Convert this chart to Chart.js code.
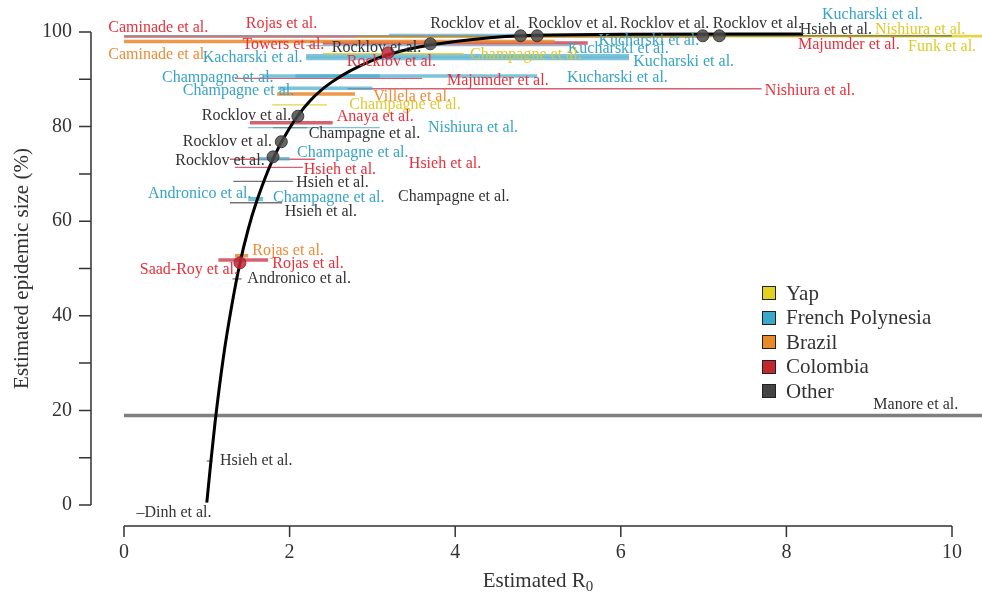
<!DOCTYPE html>
<html>
<head>
<meta charset="utf-8">
<script src="https://cdn.jsdelivr.net/npm/chart.js@4/dist/chart.umd.min.js"></script>
<style>
  body { margin: 0; background: #fff; }
  #wrap { position: relative; width: 982px; height: 597px; }
  #legend { position: absolute; left: 762px; top: 281px; font-family: "Liberation Serif", serif; font-size: 21px; color: #333; }
  .row { display: flex; align-items: center; height: 24.5px; }
  .sw { width: 12px; height: 12px; border: 1.5px solid #222; margin-right: 10px; }
</style>
</head>
<body>
<div id="wrap">
  <canvas id="chart" width="982" height="597"></canvas>
  <div id="legend"></div>
</div>
<script>
// Regions and colours
const regions = ['Yap', 'French Polynesia', 'Brazil', 'Colombia', 'Other'];
const swatch = { 'Yap': '#e3d21d', 'French Polynesia': '#3aa8c8', 'Brazil': '#e8892a', 'Colombia': '#c1272d', 'Other': '#444' };
const labelColor = { 'Yap': '#ddcb2c', 'French Polynesia': '#37a4c7', 'Brazil': '#ef8b34', 'Colombia': '#e8303c', 'Other': '#333' };
const lineColor = { 'Yap': 'rgba(222,204,40,0.85)', 'French Polynesia': 'rgba(70,170,205,0.7)', 'Brazil': 'rgba(234,134,42,0.85)', 'Colombia': 'rgba(200,45,65,0.75)', 'Other': 'rgba(70,70,70,0.75)' };

// Estimate ranges (R0 low / high, epidemic size %)
const ciRegion = ['Other', 'Yap', 'Yap', 'French Polynesia', 'Colombia', 'Brazil', 'Colombia', 'French Polynesia', 'Yap', 'French Polynesia',
  'French Polynesia', 'French Polynesia', 'French Polynesia', 'Colombia', 'French Polynesia', 'Colombia', 'Brazil', 'Yap', 'Colombia', 'French Polynesia',
  'Other', 'French Polynesia', 'Colombia', 'Colombia', 'Other', 'French Polynesia', 'French Polynesia', 'Other', 'Brazil', 'Colombia',
  'Other', 'Other', 'Other'];
const ciLow = [0, 2.8, 5.0, 3.2, 0, 0, 2.4, 2.2, 2.4, 2.2,
  2.2, 1.68, 2.07, 1.34, 1.86, 2.7, 1.85, 1.79, 1.52, 1.5,
  1.8, 1.62, 1.28, 1.34, 1.32, 1.5, 1.5, 1.28, 1.34, 1.14,
  1.31, 1.0, 0];
const ciHigh = [10, 10.4, 10.4, 8.2, 7.0, 5.2, 5.6, 5.4, 4.1, 6.1,
  6.1, 4.99, 3.09, 3.6, 3.0, 7.7, 2.79, 2.45, 2.52, 3.09,
  2.21, 2.0, 2.31, 2.16, 2.04, 1.68, 1.68, 1.91, 1.5, 1.74,
  1.42, 1.07, 10.4];
const ciSize = [99.2, 99.0, 99.3, 99.5, 98.9, 98.0, 97.7, 97.1, 95.4, 95.0,
  94.4, 90.7, 90.7, 90.2, 88.1, 88.0, 86.9, 84.6, 80.8, 79.8,
  79.8, 73.2, 73.1, 71.4, 68.4, 65.0, 64.6, 63.9, 52.7, 51.8,
  47.8, 9.3, 18.9];
const ciType = ['thin', 'thin', 'thin', 'thin', 'thin', 'thick', 'thick', 'thin', 'thin', 'thick',
  'thick', 'thick', 'thick', 'thin', 'thick', 'thin', 'thick', 'thin', 'thick', 'thin',
  'thin', 'thick', 'thin', 'thin', 'thin', 'thin', 'thick', 'thin', 'thick', 'thick',
  'thin', 'thin', 'band'];

// Point estimates on the curve
const ptOtherR0 = [1.8, 1.9, 2.1, 3.7, 4.79, 4.99, 6.99, 7.19];
const ptOtherSize = [73.6, 76.8, 82.2, 97.5, 99.2, 99.2, 99.2, 99.2];
const ptColR0 = [1.4, 3.19];
const ptColSize = [51.2, 95.6];

// Final size curve
const curveR0 = [1.0, 1.05, 1.1, 1.2, 1.3, 1.4, 1.5, 1.6, 1.8, 2.0, 2.25, 2.5, 3.0, 3.5, 4.0, 4.8, 6.0, 8.2];
const curveSize = [0.5, 9.3, 17.5, 31.2, 42.0, 51.1, 58.3, 64.1, 73.2, 79.7, 85.5, 89.3, 94.0, 96.6, 98.0, 99.2, 99.5, 99.6];

// Study labels (left edge R0, size %)
const labelText = ['Caminade et al.', 'Rojas et al.', 'Towers et al.', 'Caminade et al.', 'Kacharski et al.', 'Rocklov et al.', 'Rocklov et al.',
  'Rocklov et al.', 'Rocklov et al.', 'Rocklov et al.', 'Rocklov et al.', 'Kucharski et al.', 'Hsieh et al.', 'Nishiura et al.',
  'Majumder et al.', 'Funk et al.', 'Kucharski et al.', 'Kucharski et al.', 'Champagne et al.', 'Kucharski et al.', 'Champagne et al.',
  'Majumder et al.', 'Kucharski et al.', 'Champagne et al.', 'Nishiura et al.', 'Villela et al.', 'Champagne et al.', 'Rocklov et al.',
  'Anaya et al.', 'Champagne et al.', 'Nishiura et al.', 'Rocklov et al.', 'Champagne et al.', 'Hsieh et al.', 'Rocklov et al.',
  'Hsieh et al.', 'Hsieh et al.', 'Andronico et al.', 'Champagne et al.', 'Champagne et al.', 'Hsieh et al.', 'Rojas et al.',
  'Saad-Roy et al.', 'Rojas et al.', 'Andronico et al.', 'Hsieh et al.', '\u2013Dinh et al.', 'Manore et al.'];
const labelRegion = ['Colombia', 'Colombia', 'Colombia', 'Brazil', 'French Polynesia', 'Other', 'Colombia',
  'Other', 'Other', 'Other', 'Other', 'French Polynesia', 'Other', 'Yap',
  'Colombia', 'Yap', 'French Polynesia', 'French Polynesia', 'Yap', 'French Polynesia', 'French Polynesia',
  'Colombia', 'French Polynesia', 'French Polynesia', 'Colombia', 'Brazil', 'Yap', 'Other',
  'Colombia', 'Other', 'French Polynesia', 'Other', 'French Polynesia', 'Colombia', 'Other',
  'Colombia', 'Other', 'French Polynesia', 'French Polynesia', 'Other', 'Other', 'Brazil',
  'Colombia', 'Colombia', 'Other', 'Other', 'Other', 'Other'];
const labelR0 = [-0.19, 1.47, 1.43, -0.19, 0.95, 2.51, 2.69,
  3.70, 4.88, 5.99, 7.11, 8.43, 8.16, 9.07,
  8.14, 9.47, 5.73, 5.36, 4.18, 6.15, 0.46,
  3.90, 5.35, 0.71, 7.74, 3.01, 2.72, 0.94,
  2.57, 2.23, 3.67, 0.71, 2.09, 3.44, 0.62,
  2.17, 2.08, 0.29, 1.80, 3.31, 1.94, 1.55,
  0.19, 1.79, 1.49, 1.16, 0.15, 9.05];
const labelSize = [100.8, 101.7, 97.3, 95.1, 94.5, 96.6, 93.7,
  101.7, 101.7, 101.7, 101.7, 103.6, 100.4, 100.4,
  97.3, 96.8, 98.1, 96.4, 95.1, 93.7, 90.3,
  89.6, 90.3, 87.5, 87.5, 86.3, 84.6, 82.2,
  82.0, 78.4, 79.7, 76.7, 74.4, 72.1, 72.7,
  70.8, 68.1, 65.8, 64.9, 65.1, 62.0, 53.7,
  49.7, 51.0, 47.8, 9.3, -1.7, 21.1];

const xTicks = [0, 2, 4, 6, 8, 10];
const yTicks = [0, 20, 40, 60, 80, 100];

const font = '"Liberation Serif", "Times New Roman", serif';

// Detached axes, study labels and titles
const paperAxes = {
  id: 'paperAxes',
  afterDatasetsDraw(chart) {
    const { ctx, chartArea, scales: { x, y } } = chart;
    ctx.save();

    ctx.font = `16px ${font}`;
    ctx.textBaseline = 'middle';
    ctx.textAlign = 'left';
    labelText.forEach((t, i) => {
      ctx.fillStyle = labelColor[labelRegion[i]];
      ctx.fillText(t, x.getPixelForValue(labelR0[i]), y.getPixelForValue(labelSize[i]));
    });

    ctx.strokeStyle = '#333';
    ctx.lineWidth = 1.5;
    ctx.fillStyle = '#333';
    ctx.font = `20px ${font}`;

    // y axis
    const ax = chartArea.left;
    ctx.beginPath();
    ctx.moveTo(ax, y.getPixelForValue(0));
    ctx.lineTo(ax, y.getPixelForValue(100));
    for (let v = 0; v <= 100; v += 10) {
      ctx.moveTo(ax, y.getPixelForValue(v));
      ctx.lineTo(ax - 12, y.getPixelForValue(v));
    }
    ctx.stroke();
    ctx.textAlign = 'right';
    yTicks.forEach(v => ctx.fillText(String(v), ax - 19, y.getPixelForValue(v)));

    // x axis
    const ay = chartArea.bottom;
    ctx.beginPath();
    ctx.moveTo(x.getPixelForValue(0), ay);
    ctx.lineTo(x.getPixelForValue(10), ay);
    xTicks.forEach(v => {
      ctx.moveTo(x.getPixelForValue(v), ay);
      ctx.lineTo(x.getPixelForValue(v), ay + 11);
    });
    ctx.stroke();
    ctx.textAlign = 'center';
    xTicks.forEach(v => ctx.fillText(String(v), x.getPixelForValue(v), ay + 27));

    // titles
    const main = 'Estimated R';
    ctx.font = `21px ${font}`;
    const w = ctx.measureText(main).width;
    ctx.font = `15px ${font}`;
    const ws = ctx.measureText('0').width;
    const cx = x.getPixelForValue(5) - (w + ws) / 2;
    ctx.textAlign = 'left';
    ctx.font = `21px ${font}`;
    ctx.fillText(main, cx, 581);
    ctx.font = `15px ${font}`;
    ctx.fillText('0', cx + w, 587);

    ctx.font = `21px ${font}`;
    ctx.translate(22, (y.getPixelForValue(0) + y.getPixelForValue(100)) / 2);
    ctx.rotate(-Math.PI / 2);
    ctx.textAlign = 'center';
    ctx.fillText('Estimated epidemic size (%)', 0, 0);
    ctx.restore();
  }
};

const datasets = [];
ciLow.forEach((lo, i) => {
  const r = ciRegion[i];
  datasets.push({
    type: 'line',
    data: [{ x: lo, y: ciSize[i] }, { x: ciHigh[i], y: ciSize[i] }],
    borderColor: ciType[i] === 'band' ? '#7f7f7f' : lineColor[r],
    borderWidth: ciType[i] === 'thin' ? 1.3 : 3.5,
    borderCapStyle: 'butt',
    pointRadius: 0,
    order: 3
  });
});

datasets.push({
  type: 'line',
  data: curveR0.map((v, i) => ({ x: v, y: curveSize[i] })),
  borderColor: '#000',
  borderWidth: 3,
  cubicInterpolationMode: 'monotone',
  pointRadius: 0,
  order: 2
});

datasets.push({
  type: 'scatter',
  data: ptOtherR0.map((v, i) => ({ x: v, y: ptOtherSize[i] })),
  backgroundColor: 'rgba(75,75,75,0.85)',
  borderColor: 'rgba(50,50,50,0.9)',
  borderWidth: 1,
  pointRadius: 6,
  order: 1
});

datasets.push({
  type: 'scatter',
  data: ptColR0.map((v, i) => ({ x: v, y: ptColSize[i] })),
  backgroundColor: 'rgba(190,40,55,0.85)',
  borderColor: 'rgba(160,30,45,0.9)',
  borderWidth: 1,
  pointRadius: 6,
  order: 0
});

new Chart(document.getElementById('chart'), {
  type: 'scatter',
  data: { datasets },
  options: {
    responsive: false,
    animation: false,
    layout: { autoPadding: false, padding: { left: 91, right: 0, top: 0, bottom: 71 } },
    plugins: { legend: { display: false }, tooltip: { enabled: false } },
    scales: {
      x: { type: 'linear', display: false, min: -33 / 82.8, max: 858 / 82.8 },
      y: { type: 'linear', display: false, min: -21 / 4.73, max: 505 / 4.73 }
    }
  },
  plugins: [paperAxes]
});

// Legend
document.getElementById('legend').innerHTML = regions.map(r => `
  <div class="row"><span class="sw" style="background:${swatch[r]}"></span>${r}</div>
`).join('');
</script>
</body>
</html>
